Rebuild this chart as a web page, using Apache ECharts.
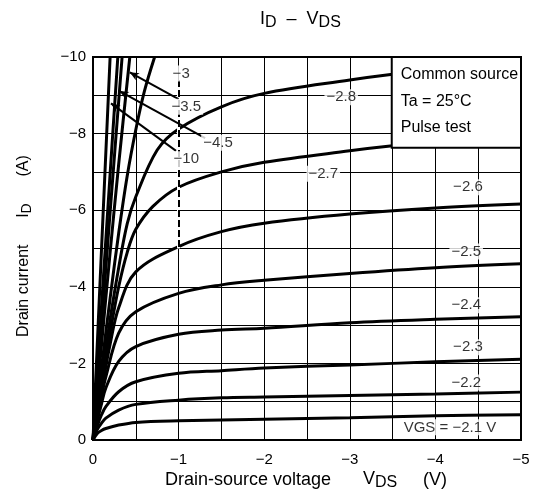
<!DOCTYPE html>
<html>
<head>
<meta charset="utf-8">
<script src="https://cdn.jsdelivr.net/npm/echarts@6/dist/echarts.min.js"></script>
<style>
  html, body { margin: 0; padding: 0; background: #fff; }
  #chart { width: 534px; height: 501px; }
</style>
</head>
<body>
<div id="chart"></div>
<script>
// Drain current vs drain-source voltage, one curve per gate-source voltage.
// Each point is [VDS (V), ID (A)].
const vgs_2_1 = [[0,0],[-0.05,-0.17],[-0.1,-0.25],[-0.15,-0.3],[-0.3,-0.39],[-0.5,-0.46],[-1,-0.5],[-2,-0.54],[-3,-0.58],[-4,-0.63],[-5,-0.66]];
const vgs_2_2 = [[0,0],[-0.05,-0.27],[-0.1,-0.44],[-0.15,-0.57],[-0.3,-0.78],[-0.5,-0.93],[-1,-1.04],[-1.5,-1.1],[-2,-1.12],[-3,-1.16],[-4,-1.2],[-5,-1.25]];
const vgs_2_3 = [[0,0],[-0.05,-0.37],[-0.1,-0.66],[-0.15,-0.87],[-0.3,-1.26],[-0.5,-1.52],[-1,-1.74],[-1.5,-1.81],[-2,-1.88],[-3,-1.96],[-4,-2.04],[-5,-2.11]];
const vgs_2_4 = [[0,0],[-0.05,-0.5],[-0.1,-0.95],[-0.15,-1.36],[-0.3,-2.05],[-0.5,-2.44],[-1,-2.76],[-1.5,-2.87],[-2,-2.92],[-3,-3.06],[-4,-3.15],[-5,-3.22]];
const vgs_2_5 = [[0,0],[-0.05,-0.6],[-0.1,-1.15],[-0.15,-1.65],[-0.3,-2.79],[-0.5,-3.35],[-1,-3.83],[-1.5,-4.05],[-2,-4.17],[-3,-4.35],[-4,-4.5],[-5,-4.6]];
const vgs_2_6 = [[0,0],[-0.05,-0.65],[-0.1,-1.3],[-0.2,-2.5],[-0.3,-3.45],[-0.5,-4.39],[-1,-5.05],[-1.5,-5.44],[-2,-5.66],[-3,-5.9],[-4,-6.06],[-5,-6.16]];
const vgs_2_7 = [[0,0],[-0.05,-0.75],[-0.1,-1.45],[-0.2,-2.8],[-0.3,-4.0],[-0.4,-4.9],[-0.5,-5.5],[-0.7,-6.1],[-1,-6.6],[-1.5,-7.0],[-2,-7.25],[-3,-7.55],[-3.5,-7.68],[-4,-7.78],[-5,-7.95]];
const vgs_2_8 = [[0,0],[-0.05,-0.82],[-0.1,-1.62],[-0.2,-3.15],[-0.3,-4.5],[-0.4,-5.65],[-0.5,-6.35],[-0.75,-7.57],[-1,-8.12],[-1.5,-8.7],[-2,-9.05],[-3,-9.4],[-3.5,-9.55],[-4,-9.67],[-5,-9.85]];
const vgs_3   = [[0,0],[-0.1,-1.9],[-0.2,-3.7],[-0.3,-5.4],[-0.4,-6.9],[-0.5,-8.1],[-0.6,-9.1],[-0.72,-10]];
const vgs_3_5 = [[0,0],[-0.1,-2.5],[-0.2,-4.9],[-0.3,-7.2],[-0.43,-10]];
const vgs_4   = [[0,0],[-0.1,-3.0],[-0.2,-5.95],[-0.34,-10]];
const vgs_4_5 = [[0,0],[-0.1,-3.5],[-0.2,-6.95],[-0.29,-10]];
const vgs_10  = [[0,0],[-0.1,-5.0],[-0.2,-10]];

const curves = [vgs_2_1, vgs_2_2, vgs_2_3, vgs_2_4, vgs_2_5, vgs_2_6, vgs_2_7, vgs_2_8,
                vgs_3, vgs_3_5, vgs_4, vgs_4_5, vgs_10];

// Axis tick labels
const xTickLabels = ['0', '\u22121', '\u22122', '\u22123', '\u22124', '\u22125'];
const yTickLabels = ['0', '\u22122', '\u22124', '\u22126', '\u22128', '\u221210'];

// Curve tags: text, then anchor point [VDS, ID]
const tagText = ['\u22122.8', '\u22122.7', '\u22122.6', '\u22122.5', '\u22122.4', '\u22122.3', '\u22122.2', 'VGS = \u22122.1 V',
                 '\u22123', '\u22123.5', '\u22124.5', '\u221210'];
const tagAt = [[-2.9,-8.95], [-2.69,-6.95], [-4.38,-6.6], [-4.36,-4.92], [-4.36,-3.52], [-4.38,-2.42], [-4.36,-1.5], [-4.17,-0.33],
               [-1.03,-9.57], [-1.09,-8.7], [-1.46,-7.76], [-1.09,-7.33]];
// Leader arrows: from [VDS, ID] to [VDS, ID]
const arrows = [
  [[-1.0,-8.9], [-0.43,-9.6]],
  [[-1.31,-7.88], [-0.31,-9.11]],
  [[-0.97,-7.55], [-0.21,-8.79]]
];
// Dashed stretch of the VDS = -1 V grid line: [VDS, ID from, ID to]
const dashedGuide = [-1, -9.4, -5.0];

const FONT = '"Liberation Sans", Arial, Helvetica, sans-serif';
const chart = echarts.init(document.getElementById('chart'), null, { renderer: 'canvas' });

const lineSeries = curves.map(pts => ({
  type: 'line',
  data: pts,
  showSymbol: false,
  symbol: 'none',
  smooth: 0.35,
  clip: true,
  lineStyle: { color: '#000', width: 3 },
  z: 3,
  silent: true
}));

// Sits between the grid lines and the curves: blanks part of a grid line and redraws it dashed
const guideSeries = {
  type: 'line',
  data: [],
  z: 1,
  silent: true,
  markLine: {
    silent: true,
    symbol: ['none', 'none'],
    label: { show: false },
    data: [
      [{ coord: [dashedGuide[0], dashedGuide[1]], lineStyle: { color: '#fff', width: 3, type: 'solid' } },
       { coord: [dashedGuide[0], dashedGuide[2]] }],
      [{ coord: [dashedGuide[0], dashedGuide[1]], lineStyle: { color: '#000', width: 2, type: [7, 3] } },
       { coord: [dashedGuide[0], dashedGuide[2]] }]
    ]
  }
};

const tagSeries = {
  type: 'scatter',
  symbol: 'circle',
  symbolSize: 1,
  itemStyle: { color: 'rgba(0,0,0,0)' },
  z: 6,
  silent: true,
  data: tagAt.map((p, i) => ({ value: p, name: tagText[i] })),
  label: {
    show: true,
    position: 'inside',
    formatter: '{b}',
    fontFamily: FONT,
    fontSize: 15,
    color: '#000',
    backgroundColor: '#fff',
    padding: [1, 2, 0, 2]
  },
  markLine: {
    silent: true,
    symbol: ['none', 'arrow'],
    symbolSize: [6, 9],
    label: { show: false },
    lineStyle: { color: '#000', width: 2, type: 'solid' },
    data: arrows.map(a => [{ coord: a[0] }, { coord: a[1] }])
  }
};

function fmtAxis(labels, step) {
  return function (v) {
    const k = Math.round(Math.abs(v) / step);
    if (Math.abs(Math.abs(v) - k * step) > 1e-6) return '';
    return labels[k] !== undefined ? labels[k] : '';
  };
}

chart.setOption({
  animation: false,
  backgroundColor: '#fff',
  grid: { left: 93, right: 13, top: 57, bottom: 61, show: true, borderColor: '#000', borderWidth: 2, backgroundColor: 'transparent' },
  xAxis: {
    type: 'value', min: -5, max: 0, interval: 0.5, inverse: true,
    axisLine: { show: false }, axisTick: { show: false },
    axisLabel: { formatter: fmtAxis(xTickLabels, 1), color: '#000', fontFamily: FONT, fontSize: 15, margin: 12, showMinLabel: true, showMaxLabel: true },
    splitLine: { show: true, lineStyle: { color: '#000', width: 1 } }
  },
  yAxis: {
    type: 'value', min: -10, max: 0, interval: 1, inverse: true,
    axisLine: { show: false }, axisTick: { show: false },
    axisLabel: { formatter: fmtAxis(yTickLabels, 2), color: '#000', fontFamily: FONT, fontSize: 15, margin: 7, showMinLabel: true, showMaxLabel: true },
    splitLine: { show: true, lineStyle: { color: '#000', width: 1 } }
  },
  series: [guideSeries].concat(lineSeries, [tagSeries])
});

// Info box in the upper right corner, placed in data coordinates
const boxTL = chart.convertToPixel({ gridIndex: 0 }, [-3.49, -10]);
const boxBR = chart.convertToPixel({ gridIndex: 0 }, [-5, -7.63]);
const titleRich = {
  m: { fontFamily: FONT, fontSize: 18, color: '#000', lineHeight: 22 },
  s: { fontFamily: FONT, fontSize: 16, color: '#000', lineHeight: 22, padding: [8, 0, 0, 0] }
};
const axRich = {
  m: { fontFamily: FONT, fontSize: 18, color: '#000', lineHeight: 20 },
  s: { fontFamily: FONT, fontSize: 16, color: '#000', lineHeight: 20, padding: [7, 0, 0, 0] }
};
const yRich = {
  m: { fontFamily: FONT, fontSize: 16, color: '#000', lineHeight: 20 },
  s: { fontFamily: FONT, fontSize: 14, color: '#000', lineHeight: 20, padding: [7, 0, 0, 0] }
};

chart.setOption({
  graphic: [
    {
      type: 'rect', z: 20,
      shape: { x: boxTL[0], y: boxTL[1], width: boxBR[0] - boxTL[0], height: boxBR[1] - boxTL[1] },
      style: { fill: '#fff', stroke: '#000', lineWidth: 2 }
    },
    { type: 'text', z: 21, left: boxTL[0] + 9, top: boxTL[1] + 10,
      style: { text: 'Common source', font: '16px ' + FONT, fill: '#000' } },
    { type: 'text', z: 21, left: boxTL[0] + 9, top: boxTL[1] + 37,
      style: { text: 'Ta = 25\u00b0C', font: '16px ' + FONT, fill: '#000' } },
    { type: 'text', z: 21, left: boxTL[0] + 9, top: boxTL[1] + 63,
      style: { text: 'Pulse test', font: '16px ' + FONT, fill: '#000' } },
    // chart title
    { type: 'text', z: 21, left: 260, top: 7,
      style: { text: '{m|I}{s|D}{m|  \u2013  V}{s|DS}', rich: titleRich } },
    // x axis title
    { type: 'text', z: 21, left: 165, top: 471,
      style: { text: '{m|Drain-source voltage}', rich: axRich } },
    { type: 'text', z: 21, left: 363, top: 467.5,
      style: { text: '{m|V}{s|DS}', rich: axRich } },
    { type: 'text', z: 21, left: 423, top: 471,
      style: { text: '{m|(V)}', rich: axRich } },
    // y axis title
    { type: 'text', z: 21, x: 14, y: 337, rotation: Math.PI / 2,
      style: { text: '{m|Drain current      I}{s|D}{m|      (A)}', rich: yRich } }
  ]
});
</script>
</body>
</html>
